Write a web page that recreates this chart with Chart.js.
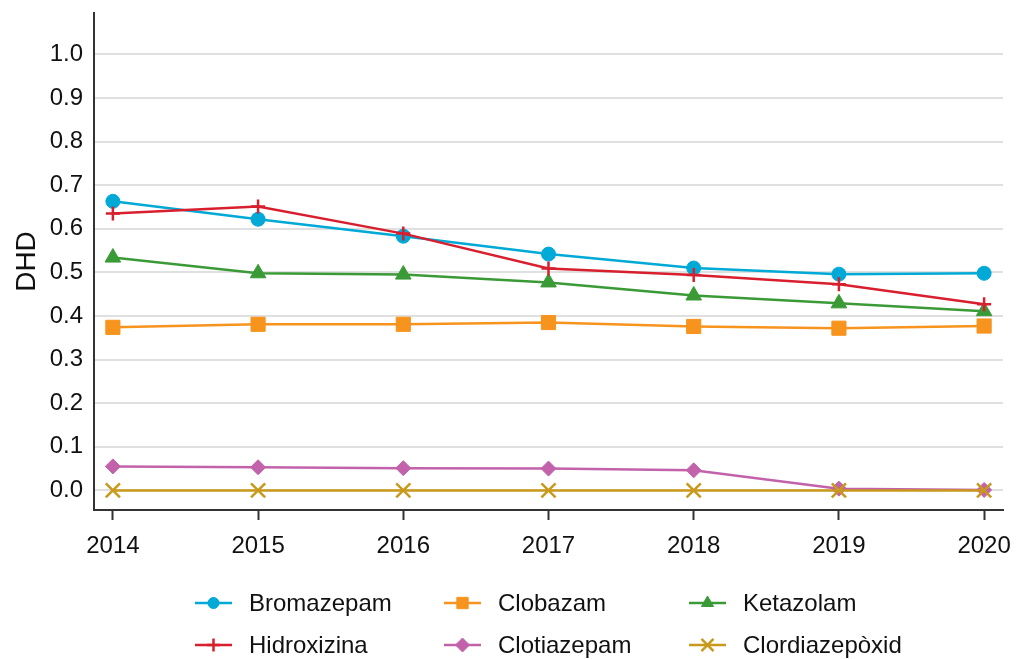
<!DOCTYPE html>
<html>
<head>
<meta charset="utf-8">
<script src="https://cdn.jsdelivr.net/npm/chart.js@4/dist/chart.umd.min.js"></script>
<style>
  html, body { margin: 0; padding: 0; background: #fff; }
  #wrap { width: 1016px; height: 659px; }
</style>
</head>
<body>
<div id="wrap"><canvas id="chart" width="1016" height="659"></canvas></div>
<script>
// ── Data ─────────────────────────────────────────────────────────────────────
const years = [2014, 2015, 2016, 2017, 2018, 2019, 2020];
const yTicks = [0, 0.1, 0.2, 0.3, 0.4, 0.5, 0.6, 0.7, 0.8, 0.9, 1.0];

const bromazepam     = [0.663, 0.622, 0.583, 0.542, 0.510, 0.496, 0.498];
const hidroxizina    = [0.635, 0.651, 0.589, 0.509, 0.494, 0.473, 0.427];
const ketazolam      = [0.534, 0.498, 0.495, 0.477, 0.447, 0.429, 0.411];
const clobazam       = [0.374, 0.381, 0.381, 0.385, 0.376, 0.372, 0.377];
const clotiazepam    = [0.055, 0.053, 0.051, 0.050, 0.046, 0.004, 0.001];
const clordiazepoxid = [0, 0, 0, 0, 0, 0, 0];

const FONT = "'Liberation Sans', Arial, sans-serif";

// name, values, colour, point style, radius, legend radius
// (order = legend order, filled column by column)
const series = [
  ['Bromazepam',     bromazepam,     '#00a9d6', 'circle',   7,   5.5],
  ['Hidroxizina',    hidroxizina,    '#d81f2e', 'cross',    7,   6.5],
  ['Clobazam',       clobazam,       '#f7941e', 'rect',     10,  8],
  ['Clotiazepam',    clotiazepam,    '#c262ab', 'rectRot',  7.5, 7],
  ['Ketazolam',      ketazolam,      '#3a9a36', 'triangle', 9,   7],
  ['Clordiazepòxid', clordiazepoxid, '#c9991c', 'crossRot', 10,  8.5],
];

// draw order: gold on top of pink, red on top of blue
const drawOrder = { 'Bromazepam': 6, 'Ketazolam': 5, 'Clobazam': 4, 'Hidroxizina': 3, 'Clotiazepam': 2, 'Clordiazepòxid': 1 };

function toPoints(vals) {
  return vals.map((v, i) => ({ x: years[i], y: v }));
}

const isCross = (s) => s === 'cross' || s === 'crossRot';

const datasets = series.map(([name, vals, color, style, r]) => ({
  label: name,
  data: toPoints(vals),
  borderColor: color,
  backgroundColor: color,
  borderWidth: 2.5,
  pointStyle: style,
  pointRadius: r,
  pointBorderWidth: isCross(style) ? 2.5 : 1,
  pointBorderColor: color,
  pointBackgroundColor: color,
  tension: 0,
  order: drawOrder[name],
}));

// ── Legend drawn on the canvas (3 columns x 2 rows) ──────────────────────────
const legendCols = [195, 444, 689];
const legendRows = [603, 645];

const gridLegend = {
  id: 'gridLegend',
  afterDraw(chart) {
    const ctx = chart.ctx;
    ctx.save();
    series.forEach(([name, vals, color, style, r, lr], i) => {
      const x = legendCols[Math.floor(i / 2)];
      const y = legendRows[i % 2];
      ctx.strokeStyle = color;
      ctx.lineWidth = 2.5;
      ctx.beginPath();
      ctx.moveTo(x, y);
      ctx.lineTo(x + 37, y);
      ctx.stroke();
      ctx.fillStyle = color;
      ctx.lineWidth = isCross(style) ? 2.5 : 1;
      Chart.helpers.drawPoint(ctx, { pointStyle: style, radius: lr, rotation: 0, borderWidth: ctx.lineWidth }, x + 18.5, y);
      ctx.fillStyle = '#111';
      ctx.font = '24px ' + FONT;
      ctx.textBaseline = 'middle';
      ctx.textAlign = 'left';
      ctx.fillText(name, x + 54, y + 1);
    });
    ctx.restore();
  }
};

new Chart(document.getElementById('chart'), {
  type: 'line',
  data: { datasets },
  plugins: [gridLegend],
  options: {
    responsive: false,
    devicePixelRatio: 1,
    animation: false,
    layout: { padding: { top: 13, right: 13, left: 0, bottom: 0 } },
    plugins: {
      legend: { display: false },
      tooltip: { enabled: false },
    },
    scales: {
      x: {
        type: 'linear',
        min: 2013.87,
        max: 2020.13,
        afterBuildTicks: (s) => { s.ticks = years.map(v => ({ value: v })); },
        afterFit: (s) => { s.height = 149; s.paddingLeft = 0; s.paddingRight = 0; },
        ticks: {
          color: '#111',
          font: { family: FONT, size: 24 },
          padding: 12,
          maxRotation: 0,
          autoSkip: false,
          callback: (v) => String(v),
        },
        grid: {
          drawOnChartArea: false,
          drawTicks: true,
          tickLength: 10,
          tickWidth: 2,
          tickColor: '#333',
        },
        border: { display: true, color: '#333', width: 2 },
      },
      y: {
        min: -0.045,
        max: 1.095,
        afterBuildTicks: (s) => { s.ticks = yTicks.map(v => ({ value: v })); },
        afterFit: (s) => { s.width = 94; s.paddingTop = 0; s.paddingBottom = 0; },
        ticks: {
          color: '#111',
          font: { family: FONT, size: 24 },
          padding: 11,
          callback: (v) => Number(v).toFixed(1),
        },
        grid: {
          color: '#e0e0e0',
          lineWidth: 2,
          drawTicks: false,
        },
        border: { display: true, color: '#333', width: 2 },
        title: {
          display: true,
          text: 'DHD',
          color: '#111',
          font: { family: FONT, size: 28 },
          padding: { top: 10, bottom: 0 },
        },
      },
    },
  },
});
</script>
</body>
</html>
